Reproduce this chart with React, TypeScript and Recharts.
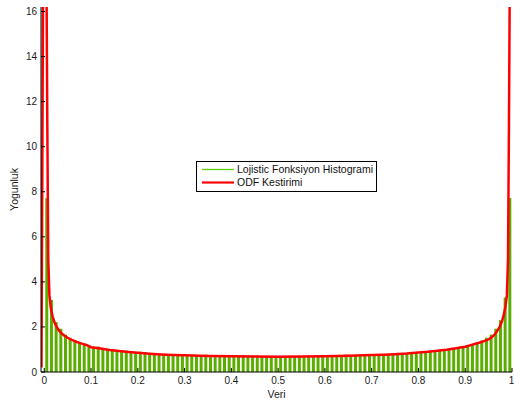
import React from 'react';
import { ComposedChart, Bar, Line, XAxis, YAxis, Legend } from 'recharts';

// histogram: 100 bins of width 0.01 on [0, 1]
const binWidth = 0.01;
const histValues = [
  7.72, 3.2, 2.22, 1.92, 1.66, 1.52, 1.42, 1.31, 1.24, 1.18,
  1.12, 1.13, 1.04, 1.0, 0.98, 0.95, 0.92, 0.95, 0.88, 0.87,
  0.9, 0.88, 0.82, 0.81, 0.8, 0.79, 0.78, 0.77, 0.76, 0.75,
  0.75, 0.74, 0.73, 0.72, 0.77, 0.72, 0.71, 0.75, 0.71, 0.7,
  0.7, 0.7, 0.74, 0.69, 0.69, 0.73, 0.69, 0.68, 0.69, 0.68,
  0.68, 0.69, 0.72, 0.69, 0.69, 0.7, 0.7, 0.7, 0.7, 0.71,
  0.71, 0.71, 0.72, 0.72, 0.77, 0.73, 0.73, 0.74, 0.75, 0.75,
  0.8, 0.77, 0.78, 0.79, 0.8, 0.85, 0.82, 0.83, 0.85, 0.86,
  0.88, 0.89, 0.91, 0.93, 0.96, 0.98, 1.01, 1.04, 1.08, 1.12,
  1.17, 1.23, 1.3, 1.4, 1.52, 1.66, 1.92, 2.3, 3.3, 7.72,
];

// density estimate
const kdeX = [
  -0.006, -0.004, -0.002, 0.001, 0.004, 0.0065, 0.0085, 0.011, 0.014, 0.018,
  0.022, 0.026, 0.03, 0.035, 0.04, 0.045, 0.05, 0.06, 0.07, 0.08,
  0.09, 0.1, 0.12, 0.14, 0.16, 0.18, 0.2, 0.225, 0.25, 0.275,
  0.3, 0.35, 0.4, 0.45, 0.5, 0.55, 0.6, 0.65, 0.7, 0.725,
  0.75, 0.775, 0.8, 0.82, 0.84, 0.86, 0.88, 0.9, 0.91, 0.92,
  0.93, 0.94, 0.95, 0.955, 0.96, 0.965, 0.97, 0.974, 0.978, 0.982,
  0.986, 0.989, 0.9915, 0.9935, 0.996, 0.999, 1.002,
];
const kdeY = [
  0.2, 10, 20, 25, 20, 11, 5, 3.4, 2.85, 2.45,
  2.2, 2.02, 1.88, 1.76, 1.66, 1.58, 1.52, 1.41, 1.33, 1.26,
  1.2, 1.1, 1.04, 0.98, 0.93, 0.89, 0.85, 0.81, 0.78, 0.76,
  0.74, 0.71, 0.695, 0.685, 0.68, 0.685, 0.7, 0.72, 0.75, 0.77,
  0.79, 0.82, 0.87, 0.9, 0.94, 0.99, 1.05, 1.12, 1.18, 1.24,
  1.3, 1.37, 1.45, 1.52, 1.6, 1.72, 1.87, 2.02, 2.22, 2.5,
  2.9, 3.4, 5, 11, 20, 25, 20,
];

const xTicks = [0, 0.1, 0.2, 0.3, 0.4, 0.5, 0.6, 0.7, 0.8, 0.9, 1];
const yTicks = [0, 2, 4, 6, 8, 10, 12, 14, 16];
const xDomain = [-0.007, 1.0];
const yDomain = [0, 16.2];

const histRows = histValues.map((v, i) => ({ x: +(binWidth * (i + 0.5)).toFixed(4), hist: v }));
const kdeRows = kdeX.map((x, i) => ({ x, kde: kdeY[i] }));

const font = '"Liberation Sans", Arial, Helvetica, sans-serif';
const tickStyle = { fontSize: 10, fill: '#1a1a1a', fontFamily: font };

const legendItems = [
  { name: 'Lojistic Fonksiyon Histogrami', color: '#5ccf00', width: 1.3 },
  { name: 'ODF Kestirimi', color: '#ff0000', width: 2.2 },
];

const renderLegend = () => (
  <div
    style={{
      width: 181,
      height: 31,
      boxSizing: 'border-box',
      border: '1px solid #000',
      background: '#fff',
      fontFamily: font,
      fontSize: 10.5,
      color: '#111',
      paddingTop: 1,
    }}
  >
    {legendItems.map((it) => (
      <div key={it.name} style={{ display: 'flex', alignItems: 'center', height: 13 }}>
        <svg width={40} height={13}>
          <line x1={5} x2={37} y1={6.5} y2={6.5} stroke={it.color} strokeWidth={it.width} />
        </svg>
        <span style={{ lineHeight: '13px', whiteSpace: 'nowrap' }}>{it.name}</span>
      </div>
    ))}
  </div>
);

const yLabel = (props: any) => {
  const vb = props.viewBox || { x: 0, y: 0, width: 0, height: 0 };
  const cx = 14;
  const cy = vb.y + vb.height / 2;
  return (
    <text
      x={cx}
      y={cy}
      transform={`rotate(-90, ${cx}, ${cy})`}
      textAnchor="middle"
      dominantBaseline="central"
      style={{ fontSize: 10.5, fill: '#1a1a1a', fontFamily: font }}
    >
      Yogunluk
    </text>
  );
};

export default function App() {
  return (
    <div style={{ position: 'absolute', left: 0, top: 0, background: '#fff' }}>
      <ComposedChart
        width={514}
        height={401}
        data={histRows}
        margin={{ top: 7, right: 2, bottom: 0, left: 0 }}
      >
        {/* bottom axis: inward ticks (negative size), labels below */}
        <XAxis
          xAxisId="x"
          dataKey="x"
          type="number"
          domain={xDomain}
          ticks={xTicks}
          allowDataOverflow
          height={29}
          tickSize={-4}
          tickMargin={9}
          tickLine={{ stroke: '#000' }}
          tick={tickStyle}
          axisLine={{ stroke: '#000' }}
          tickFormatter={(v) => String(v)}
          label={{ value: 'Veri', position: 'insideBottom', offset: 3, style: { fontSize: 10.5, fill: '#1a1a1a', fontFamily: font } }}
        />
        <XAxis xAxisId="k" dataKey="x" type="number" domain={xDomain} allowDataOverflow hide height={0} />
        {/* top box edge with ticks */}
        <XAxis
          xAxisId="xt"
          type="number"
          domain={xDomain}
          ticks={xTicks}
          allowDataOverflow
          orientation="top"
          height={0}
          tick={false}
          tickSize={-4}
          tickLine={{ stroke: '#000' }}
          axisLine={{ stroke: '#000' }}
        />
        <YAxis
          yAxisId="y"
          type="number"
          domain={yDomain}
          ticks={yTicks}
          allowDataOverflow
          width={41}
          tickSize={-4}
          tickMargin={8}
          tickLine={{ stroke: '#000' }}
          tick={tickStyle}
          axisLine={{ stroke: '#000' }}
          label={{ content: yLabel }}
        />
        {/* right box edge with ticks */}
        <YAxis
          yAxisId="yr"
          type="number"
          domain={yDomain}
          ticks={yTicks}
          allowDataOverflow
          orientation="right"
          width={0}
          tick={false}
          tickSize={-4}
          tickLine={{ stroke: '#000' }}
          axisLine={{ stroke: '#000' }}
        />
        <Bar
          xAxisId="x"
          yAxisId="y"
          dataKey="hist"
          name="Lojistic Fonksiyon Histogrami"
          fill="#5aae00"
          barSize={3}
          isAnimationActive={false}
        />
        <Line
          xAxisId="k"
          yAxisId="y"
          data={kdeRows}
          dataKey="kde"
          name="ODF Kestirimi"
          type="linear"
          stroke="#ff0000"
          strokeWidth={2.5}
          dot={false}
          activeDot={false}
          isAnimationActive={false}
        />
        <Legend
          layout="vertical"
          align="center"
          verticalAlign="middle"
          content={renderLegend}
          wrapperStyle={{ position: 'absolute', left: 196, top: 161, width: 181 }}
        />
      </ComposedChart>
    </div>
  );
}
